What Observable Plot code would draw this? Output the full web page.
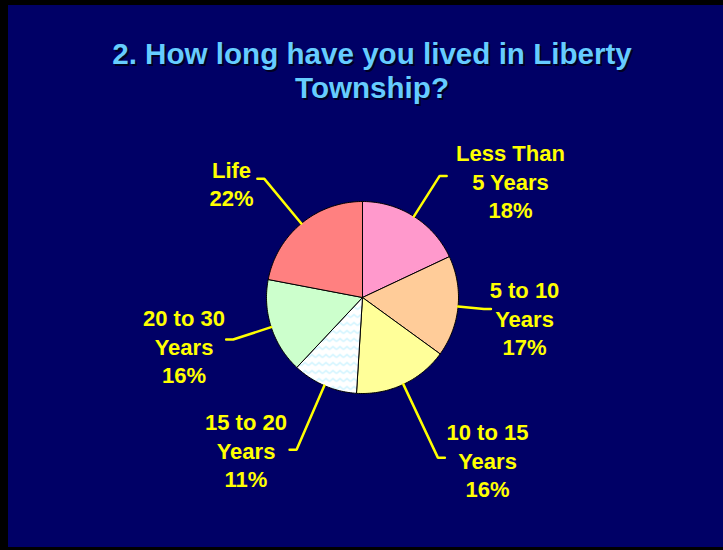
<!DOCTYPE html>
<html>
<head>
<meta charset="utf-8">
<script src="https://cdn.jsdelivr.net/npm/d3@7"></script>
<script src="https://cdn.jsdelivr.net/npm/@observablehq/plot@0.6"></script>
<style>
  html, body { margin: 0; padding: 0; width: 723px; height: 550px; overflow: hidden; background: #000; }
  #slide { position: absolute; left: 8px; top: 5px; width: 715px; height: 542px; background: #000066; }
  #title { position: absolute; left: -28px; top: 36.5px; width: 800px; text-align: center;
    font-family: "Liberation Sans", Arial, sans-serif; font-weight: bold; font-size: 29.6px; line-height: 34px;
    color: #66CCFF; text-shadow: 2px 2px 0 #000022; }
  #chart { position: absolute; left: 0; top: 0; }
</style>
</head>
<body>
<div id="slide"></div>
<div id="title">2. How long have you lived in Liberty<br>Township?</div>
<div id="chart"></div>
<script>
// ---- data ----
const categories = ["Less Than 5 Years", "5 to 10 Years", "10 to 15 Years", "15 to 20 Years", "20 to 30 Years", "Life"];
const percents = [18, 17, 16, 11, 16, 22];
const labelLines = ["Less Than\n5 Years", "5 to 10\nYears", "10 to 15\nYears", "15 to 20\nYears", "20 to 30\nYears", "Life"];
const sliceColors = ["#FF99CC", "#FFCC99", "#FFFF99", "url(#zigzag)", "#CCFFCC", "#FF8080"];

// ---- layout (pixels relative to pie centre) ----
const R = 96;
const elbowR = [144, 122, 177, 166, 136, 154];
const labelPos = [[148, -117], [162, 20], [125, 162], [-116.5, 152], [-178.5, 48], [-131, -114.5]];
const tick = 7;

const arcs = d3.pie().sort(null).value(d => d)(percents);

const slicePts = [];
arcs.forEach((a, i) => {
  const n = Math.max(4, Math.ceil((a.endAngle - a.startAngle) / 0.02));
  slicePts.push({k: i, x: 0, y: 0, c: sliceColors[i]});
  for (let j = 0; j <= n; j++) {
    const t = a.startAngle + (a.endAngle - a.startAngle) * j / n;
    slicePts.push({k: i, x: R * Math.sin(t), y: -R * Math.cos(t), c: sliceColors[i]});
  }
  slicePts.push({k: i, x: 0, y: 0, c: sliceColors[i]});
});

const leaderPts = [];
arcs.forEach((a, i) => {
  const m = (a.startAngle + a.endAngle) / 2;
  const ex = elbowR[i] * Math.sin(m), ey = -elbowR[i] * Math.cos(m);
  const s = Math.sign(Math.sin(m)) || 1;
  leaderPts.push({k: i, x: R * Math.sin(m), y: -R * Math.cos(m)});
  leaderPts.push({k: i, x: ex, y: ey});
  leaderPts.push({k: i, x: ex + s * tick, y: ey});
});

const labels = categories.map((c, i) => ({
  text: labelLines[i] + "\n" + percents[i] + "%",
  x: labelPos[i][0], y: labelPos[i][1]
}));

const cx = 362, cy = 297;
const plot = Plot.plot({
  width: 723, height: 550,
  margin: 0,
  x: {domain: [-cx, 723 - cx], range: [0, 723], axis: null},
  y: {domain: [-cy, 550 - cy], range: [0, 550], axis: null},
  color: {type: "identity"},
  style: {background: "transparent", overflow: "visible"},
  marks: [
    Plot.line(slicePts, {x: "x", y: "y", z: "k", fill: "c", stroke: "#000", strokeWidth: 1, strokeLinejoin: "round"}),
    Plot.line(leaderPts, {x: "x", y: "y", z: "k", stroke: "#FFFF00", strokeWidth: 2.5, strokeLinejoin: "miter"}),
    Plot.text(labels, {x: "x", y: "y", text: "text", fill: "#FFFF00", fontSize: 22, fontWeight: "bold",
      fontFamily: "Liberation Sans, Arial, sans-serif", lineHeight: 1.3, textAnchor: "middle", lineAnchor: "middle"})
  ]
});

d3.select(plot).insert("defs", ":first-child").html(`
  <pattern id="zigzag" patternUnits="userSpaceOnUse" width="7" height="8">
    <rect width="7" height="8" fill="#FFFFFF"/>
    <path d="M0,5 L3.5,2 L7,5" fill="none" stroke="#C6F2FF" stroke-width="1.3"/>
  </pattern>`);

document.getElementById("chart").appendChild(plot);
</script>
</body>
</html>
